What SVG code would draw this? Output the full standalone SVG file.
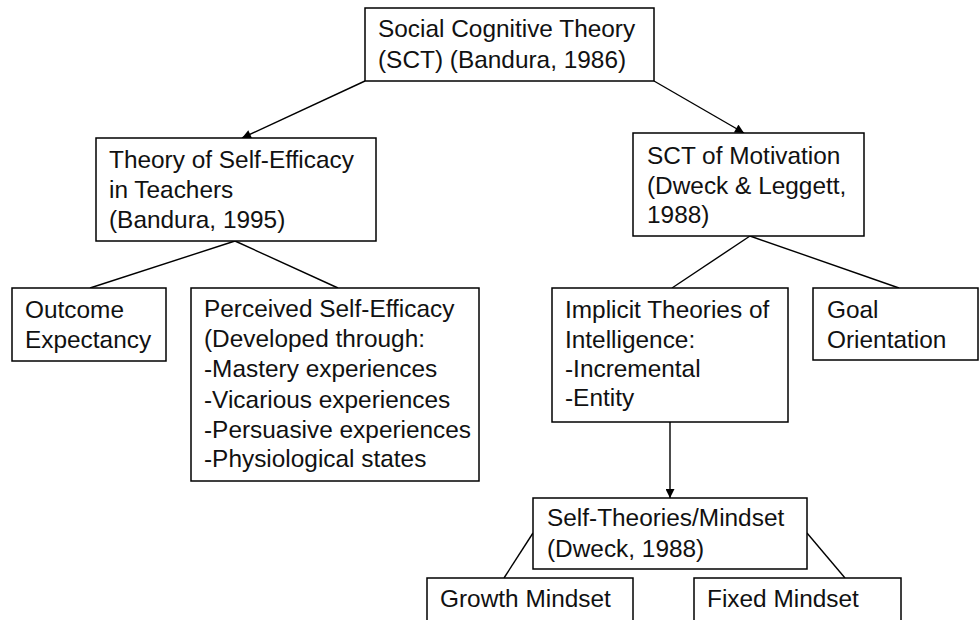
<svg xmlns="http://www.w3.org/2000/svg" width="979" height="620" viewBox="0 0 979 620">
<defs>
<style>
.box{fill:#fff;stroke:#000;stroke-width:1.5}
.t{font-family:"Liberation Sans",Arial,sans-serif;font-size:24.4px;fill:#111}
.c{stroke:#000;stroke-width:1.4;fill:none}
</style>
<marker id="ah" viewBox="0 0 10 10" refX="10" refY="5" markerWidth="10" markerHeight="9" markerUnits="userSpaceOnUse" orient="auto">
<path d="M0,0 L10,5 L0,10 z" fill="#000"/>
</marker>
</defs>
<rect width="979" height="620" fill="#fff"/>
<g id="connectors">
<line class="c" x1="365" y1="81" x2="242" y2="138" marker-end="url(#ah)"/>
<line class="c" x1="654" y1="81" x2="744" y2="133" marker-end="url(#ah)"/>
<line class="c" x1="235" y1="241" x2="90" y2="288"/>
<line class="c" x1="235" y1="241" x2="338" y2="288"/>
<line class="c" x1="750" y1="236" x2="672" y2="288"/>
<line class="c" x1="750" y1="236" x2="899" y2="288"/>
<line class="c" x1="670" y1="422" x2="670" y2="498" marker-end="url(#ah)"/>
<line class="c" x1="533" y1="533" x2="504" y2="578"/>
<line class="c" x1="807" y1="533" x2="845" y2="578"/>
</g>
<g id="sct">
<rect class="box" x="365" y="8" width="289" height="73"/>
<text class="t" x="378" y="37">Social Cognitive Theory</text>
<text class="t" x="378" y="68">(SCT) (Bandura, 1986)</text>
</g>
<g id="self-efficacy">
<rect class="box" x="96" y="138" width="280" height="103"/>
<text class="t" x="109" y="168">Theory of Self-Efficacy</text>
<text class="t" x="109" y="198">in Teachers</text>
<text class="t" x="109" y="228">(Bandura, 1995)</text>
</g>
<g id="motivation">
<rect class="box" x="633" y="133" width="231" height="103"/>
<text class="t" x="647" y="164">SCT of Motivation</text>
<text class="t" x="647" y="194">(Dweck &amp; Leggett,</text>
<text class="t" x="647" y="223">1988)</text>
</g>
<g id="outcome">
<rect class="box" x="12" y="288" width="154" height="73"/>
<text class="t" x="25" y="318">Outcome</text>
<text class="t" x="25" y="348">Expectancy</text>
</g>
<g id="perceived">
<rect class="box" x="191" y="288" width="288" height="193"/>
<text class="t" x="204" y="317">Perceived Self-Efficacy</text>
<text class="t" x="204" y="347">(Developed through:</text>
<text class="t" x="204" y="377">-Mastery experiences</text>
<text class="t" x="204" y="408">-Vicarious experiences</text>
<text class="t" x="204" y="438">-Persuasive experiences</text>
<text class="t" x="204" y="467">-Physiological states</text>
</g>
<g id="implicit">
<rect class="box" x="552" y="288" width="236" height="134"/>
<text class="t" x="565" y="318">Implicit Theories of</text>
<text class="t" x="565" y="348">Intelligence:</text>
<text class="t" x="565" y="377">-Incremental</text>
<text class="t" x="565" y="406">-Entity</text>
</g>
<g id="goal">
<rect class="box" x="813" y="288" width="165" height="72"/>
<text class="t" x="827" y="318">Goal</text>
<text class="t" x="827" y="348">Orientation</text>
</g>
<g id="mindset">
<rect class="box" x="533" y="498" width="274" height="71"/>
<text class="t" x="547" y="526">Self-Theories/Mindset</text>
<text class="t" x="547" y="557">(Dweck, 1988)</text>
</g>
<g id="growth">
<rect class="box" x="427" y="578" width="206" height="60"/>
<text class="t" x="440" y="607">Growth Mindset</text>
</g>
<g id="fixed">
<rect class="box" x="694" y="578" width="207" height="60"/>
<text class="t" x="707" y="607">Fixed Mindset</text>
</g>
</svg>
